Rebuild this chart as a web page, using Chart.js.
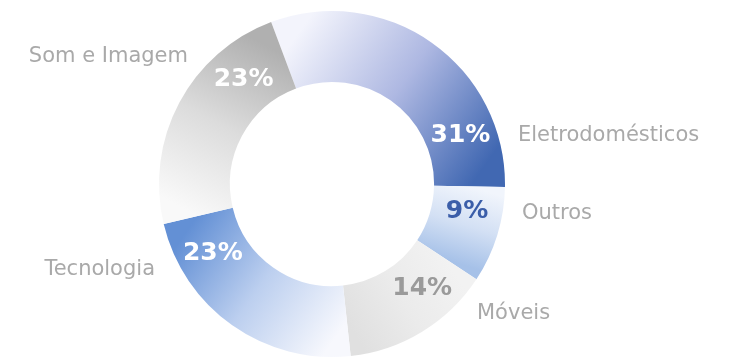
<!DOCTYPE html>
<html>
<head>
<meta charset="utf-8">
<script src="https://cdn.jsdelivr.net/npm/chart.js@4/dist/chart.umd.min.js"></script>
<style>
  html, body { margin: 0; padding: 0; background: #ffffff; }
  canvas { display: block; }
</style>
</head>
<body>
<canvas id="vendas" width="733" height="358"></canvas>
<script>
// Participação nas vendas por categoria (%)
const categories = ['Eletrodomésticos', 'Outros', 'Móveis', 'Tecnologia', 'Som e Imagem'];
const shares = [31, 9, 14, 23, 23];

// Gradient stops per slice: light at the start of the arc, saturated at its end
const sliceStops = [
  ['#f3f4fc', '#aeb8e2', '#4168b2'],
  ['#f1f5fc', '#d3e0f4', '#a6c1e8'],
  ['#f2f2f2', '#ebebeb', '#e0e0e0'],
  ['#f7f8fd', '#bccfef', '#6390d5'],
  ['#f9f9f9', '#dcdcdc', '#b0b0b0']
];
const valueColors = ['#ffffff', '#3b5ea9', '#9a9a9a', '#ffffff', '#ffffff'];
// Angle (degrees, clockwise from 12 o'clock) where each percentage sits on the ring
const valueAngles = [69, 101, 139, 240, 320];
// Category name placement: x, baseline y, alignment
const namePlacement = [
  [518, 141, 'left'],
  [522, 219, 'left'],
  [477, 319, 'left'],
  [155, 275, 'right'],
  [188, 62, 'right']
];
const ROTATION = -20.6;

const total = shares.reduce((a, b) => a + b, 0);

function sliceGradient(ctx) {
  const i = ctx.dataIndex;
  const stops = sliceStops[i];
  const chart = ctx.chart;
  const area = chart.chartArea;
  if (!area) return stops[2];
  const cx = (area.left + area.right) / 2;
  const cy = (area.top + area.bottom) / 2;
  const r = Math.min(area.right - area.left, area.bottom - area.top) / 2 * 0.8;
  let before = 0;
  for (let k = 0; k < i; k++) before += shares[k];
  const base = ROTATION * Math.PI / 180 - Math.PI / 2;
  const a0 = base + before / total * 2 * Math.PI;
  const a1 = base + (before + shares[i]) / total * 2 * Math.PI;
  const g = chart.ctx.createLinearGradient(
    cx + r * Math.cos(a0), cy + r * Math.sin(a0),
    cx + r * Math.cos(a1), cy + r * Math.sin(a1)
  );
  g.addColorStop(0, stops[0]);
  g.addColorStop(0.5, stops[1]);
  g.addColorStop(1, stops[2]);
  return g;
}

const ringLabels = {
  id: 'ringLabels',
  afterDatasetsDraw(chart) {
    const c = chart.ctx;
    const arcs = chart.getDatasetMeta(0).data;
    c.save();
    arcs.forEach((arc, i) => {
      const rMid = (arc.innerRadius + arc.outerRadius) / 2;
      const t = (valueAngles[i] - 90) * Math.PI / 180;
      c.font = 'bold 25px "DejaVu Sans"';
      c.fillStyle = valueColors[i];
      c.textAlign = 'center';
      c.textBaseline = 'middle';
      c.fillText(shares[i] + '%', arc.x + rMid * Math.cos(t), arc.y + rMid * Math.sin(t) + 1);

      const [nx, ny, align] = namePlacement[i];
      c.font = '21px "DejaVu Sans"';
      c.fillStyle = '#a9a9a9';
      c.textAlign = align;
      c.textBaseline = 'alphabetic';
      c.fillText(categories[i], nx, ny);
    });
    c.restore();
  }
};

new Chart(document.getElementById('vendas'), {
  type: 'doughnut',
  data: {
    labels: categories,
    datasets: [{
      data: shares,
      backgroundColor: sliceGradient,
      borderWidth: 0,
      hoverOffset: 0
    }]
  },
  options: {
    responsive: false,
    devicePixelRatio: 1,
    animation: false,
    rotation: ROTATION,
    cutout: '59%',
    layout: { padding: { left: 0, right: 69, top: 11, bottom: 1 } },
    plugins: {
      legend: { display: false },
      tooltip: { enabled: false }
    },
    events: []
  },
  plugins: [ringLabels]
});
</script>
</body>
</html>
